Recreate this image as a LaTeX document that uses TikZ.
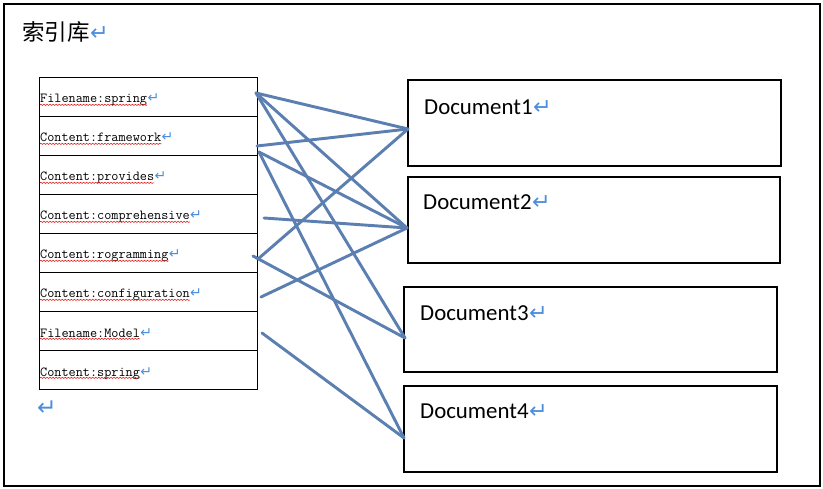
\documentclass[tikz,border=0pt]{standalone}
\usepackage{fontspec}
\newfontfamily\cjkfont{Noto Sans CJK SC}
\newfontfamily\docfont{Carlito}
\newfontfamily\markfont{DejaVu Sans}
\usetikzlibrary{positioning,decorations.pathmorphing}

\definecolor{linkblue}{RGB}{91,127,177}
\definecolor{markblue}{RGB}{76,142,218}
\definecolor{wavyred}{RGB}{225,30,30}

% Word paragraph mark, size in pt
\newcommand{\retmark}[1]{{\markfont\fontsize{#1}{#1}\selectfont\color{markblue}↵}}

\begin{document}
\begin{tikzpicture}[
    x=0.03cm, y=-0.03cm,
    rowbox/.style={draw, line width=0.8pt, minimum width=6.54cm, minimum height=1.17cm, inner sep=0pt, outer sep=0pt},
    rowtext/.style={anchor=base west, inner sep=0pt, font=\ttfamily\fontsize{11.8}{12}\selectfont},
    docbox/.style={draw, line width=1.6pt, anchor=north west, minimum width=11.19cm, minimum height=2.58cm, inner sep=0pt},
    doctext/.style={anchor=base west, inner sep=0pt, font=\docfont\fontsize{19.5}{22}\selectfont},
    retsign/.style={anchor=base west, inner sep=0pt},
    link/.style={draw=linkblue, line width=2.5pt, line cap=round},
    wavy/.style={draw=wavyred, line width=0.5pt, decorate, decoration={snake, amplitude=0.5pt, segment length=2.6pt}}
]

    % --- 1. frame ---
    \useasboundingbox (0,0) rectangle (823,489);
    \draw[line width=1.8pt] (4,4) rectangle (820,486);

    % title
    \node[anchor=west, inner sep=0pt, font=\cjkfont\fontsize{19.2}{20}\selectfont] (title) at (22,32) {索引库};
    \node[retsign] at (title.base east) {\retmark{19}};

    % --- 2. index table ---
    \foreach \lbl [count=\i] in {Filename:spring, Content:framework, Content:provides, Content:comprehensive,
                                 Content:rogramming, Content:configuration, Filename:Model, Content:spring} {
        \node[rowbox] (row\i) at (148, {57.5+39*\i}) {};
        \node[rowtext] (lbl\i) at (40, {77+39*(\i-1)+26}) {\lbl};
        \node[retsign] at (lbl\i.base east) {\retmark{12}};
        \draw[wavy] ([yshift=-1.6pt]lbl\i.base west) -- ([yshift=-1.6pt]lbl\i.base east);
    }
    \node (endmark) at (47,408) {\retmark{20}};

    % --- 3. documents ---
    \node[docbox] (doc1) at (407,79) {};
    \node[docbox, minimum width=11.16cm] (doc2) at (407,176) {};
    \node[docbox, minimum height=2.55cm] (doc3) at (403,286) {};
    \node[docbox] (doc4) at (403,385) {};

    \node[doctext] (doc1lbl) at (424,115) {Document1};
    \node[doctext] (doc2lbl) at (423,210) {Document2};
    \node[doctext] (doc3lbl) at (420,320) {Document3};
    \node[doctext] (doc4lbl) at (420,418) {Document4};
    \foreach \d in {1,...,4}
        \node[retsign] at (doc\d lbl.base east) {\retmark{19}};

    % --- 4. links ---
    \coordinate (d1in) at (408,129);
    \coordinate (d2in) at (407,228);
    \coordinate (d3in) at (405,338);
    \coordinate (d4in) at (404,438);

    \coordinate (s1)  at (256,93);
    \coordinate (s2a) at (257,146);
    \coordinate (s2b) at (259,152);
    \coordinate (s4)  at (264,218);
    \coordinate (s5a) at (253,256);
    \coordinate (s5b) at (258,259);
    \coordinate (s6)  at (261,297);
    \coordinate (s7)  at (262,333);

    \draw[link] (s1) -- (d1in);
    \draw[link] (s1) -- (d2in);
    \draw[link] (s1) -- (d3in);
    \draw[link] (s2a) -- (d1in);
    \draw[link] (s2b) -- (d2in);
    \draw[link] (s2b) -- (d4in);
    \draw[link] (s4) -- (d2in);
    \draw[link] (s5a) -- (d3in);
    \draw[link] (s5b) -- (d1in);
    \draw[link] (s6) -- (d2in);
    \draw[link] (s7) -- (d4in);

\end{tikzpicture}
\end{document}
